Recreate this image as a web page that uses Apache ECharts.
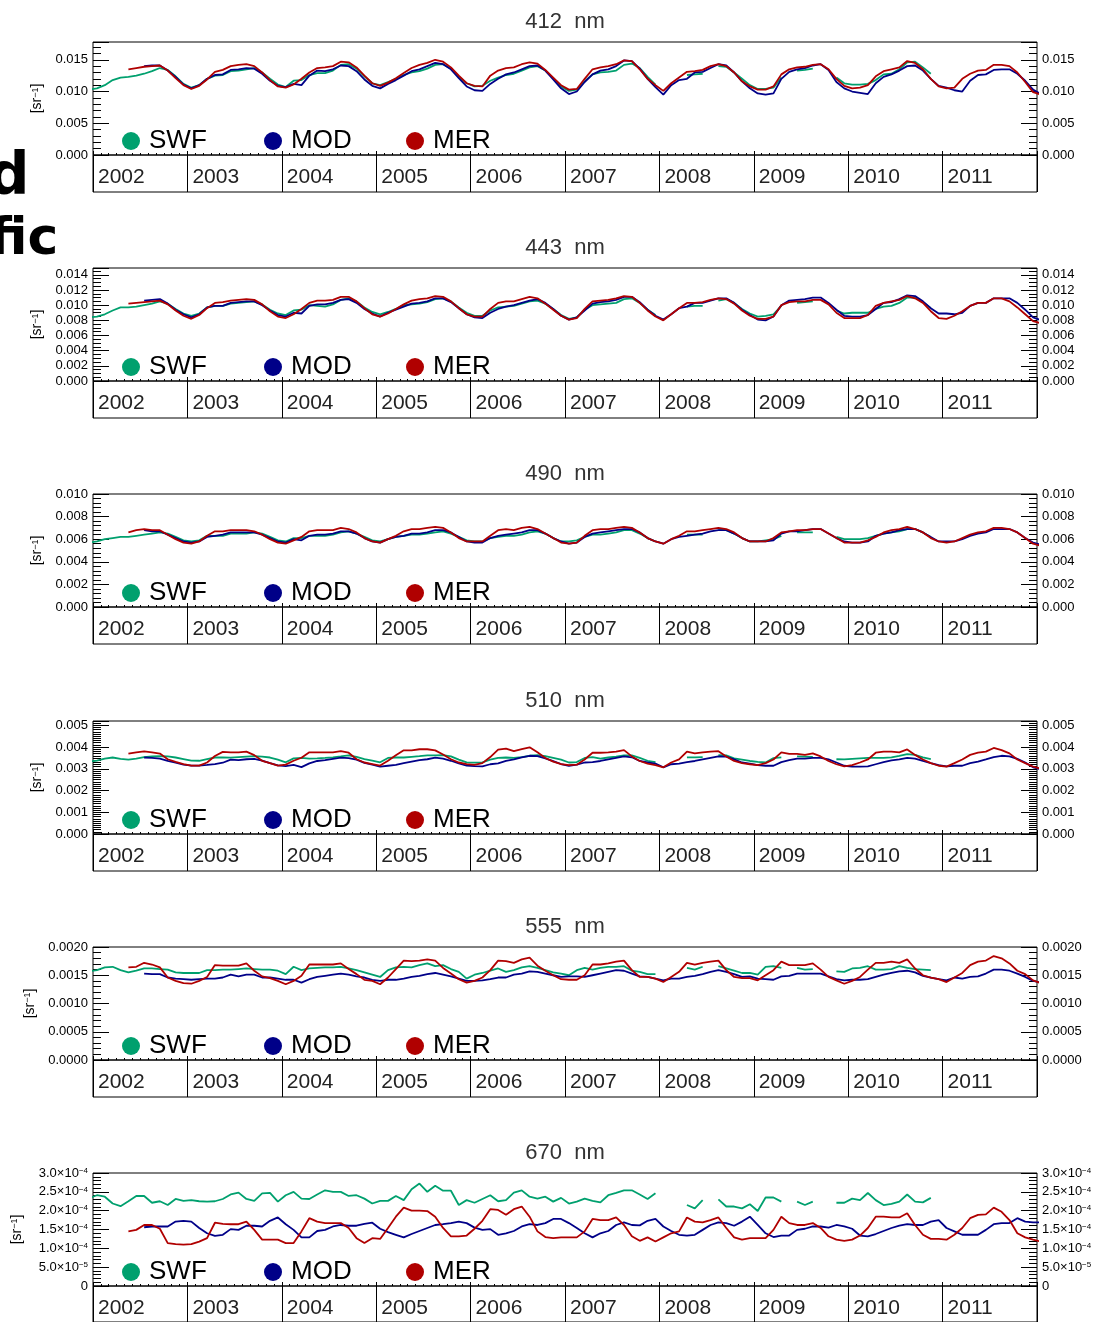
<!DOCTYPE html>
<html><head><meta charset="utf-8">
<script src="https://cdn.jsdelivr.net/npm/echarts@6/dist/echarts.min.js"></script>
<style>html,body{margin:0;padding:0;background:#fff}#c{width:1101px;height:1322px}</style>
</head><body><div id="c"></div><script>
const N = null;
const years = [2002, 2003, 2004, 2005, 2006, 2007, 2008, 2009, 2010, 2011];
const wavelengths = ['412', '443', '490', '510', '555', '670'];
const seriesNames = ['SWF', 'MOD', 'MER'];
const colors = ['#00a06e', '#000088', '#b00000'];

// Monthly values, Dec 2001 .. Dec 2011 + Jan 2012 (122 values); units per panel below
const swf412 = [10.3,
 10.5,11.0,11.8,12.2,12.3,12.5,12.8,13.2,13.7,13.4,12.4,11.2,
 10.6,11.0,12.0,12.5,12.6,13.2,13.3,13.5,13.7,13.0,12.0,11.1,
 10.7,11.7,11.8,12.6,12.9,12.9,13.3,14.2,14.3,13.6,12.4,11.3,
 11.0,11.5,12.0,12.6,13.0,13.2,13.6,14.2,14.3,13.6,12.3,11.3,
 10.8,10.9,11.7,12.2,12.6,12.8,13.3,13.8,14.0,13.3,12.1,10.8,
 10.1,10.3,11.6,12.7,13.0,13.1,13.3,14.2,14.4,13.7,12.3,11.1,
 N,N,N,12.6,12.7,12.8,N,14.0,13.9,13.0,12.0,11.0,
 10.4,10.4,10.6,12.2,N,13.3,13.4,13.6,N,N,12.2,11.3,
 11.1,11.1,11.2,11.8,12.7,12.8,13.5,14.6,14.7,13.8,12.8,N,
 N,N,N,N,N,N,N,N,N,N,N,N,
 N];
const mod412 = [N,
 N,N,N,N,N,N,14.0,14.1,14.1,13.3,12.3,11.1,
 10.5,11.0,12.0,12.6,12.7,13.4,13.5,13.7,13.6,12.8,11.7,10.9,
 10.7,11.2,11.0,12.5,13.3,13.2,13.5,14.1,14.0,13.2,11.9,10.9,
 10.5,11.2,11.8,12.5,13.2,13.5,14.0,14.5,14.3,13.5,12.1,10.8,
 10.2,10.1,11.2,12.0,12.7,13.0,13.5,14.0,14.1,13.3,11.9,10.5,
 9.6,10.0,11.5,12.7,13.3,13.5,14.0,14.9,14.8,13.6,12.0,10.7,
 9.5,11.0,11.8,12.0,13.0,13.1,13.7,14.3,14.1,13.0,11.6,10.5,
 9.7,9.5,9.7,12.0,13.1,13.5,13.7,14.1,14.3,13.4,11.5,10.5,
 10.0,9.8,9.6,11.3,12.3,12.7,13.3,14.0,14.1,13.3,12.0,10.9,
 10.6,10.2,10.0,11.7,12.6,12.7,13.4,13.5,13.5,12.8,11.7,10.3,
 9.6];
const mer412 = [N,
 N,N,N,N,13.5,13.7,13.9,14.0,14.1,13.3,12.1,11.0,
 10.4,10.9,11.9,13.1,13.4,14.0,14.2,14.3,14.0,13.0,11.8,10.8,
 10.6,11.1,12.0,13.0,13.7,13.8,14.0,14.7,14.6,13.8,12.5,11.3,
 10.9,11.4,12.1,12.9,13.7,14.2,14.5,15.0,14.7,13.8,12.5,11.3,
 10.9,10.8,12.5,13.3,13.7,13.8,14.3,14.6,14.4,13.4,12.2,11.0,
 10.3,10.4,12.0,13.5,13.8,14.0,14.3,14.9,14.8,13.5,12.0,11.0,
 10.1,11.3,12.2,13.1,13.2,13.4,14.0,14.3,14.0,13.0,11.6,10.8,
 10.3,10.3,10.8,12.7,13.5,13.8,13.9,14.2,14.3,13.5,12.0,10.9,
 10.5,10.6,11.0,12.4,13.2,13.5,13.8,14.8,14.5,13.5,12.0,10.8,
 10.5,10.6,12.0,12.8,13.3,13.4,14.2,14.2,14.0,13.0,11.5,9.9,
 9.5];

const swf443 = [8.4,
 8.5,8.8,9.3,9.7,9.7,9.8,10.0,10.2,10.5,10.2,9.5,8.9,
 8.6,8.9,9.7,9.9,9.9,10.2,10.3,10.4,10.5,10.1,9.4,8.9,
 8.7,9.3,9.4,10.0,9.9,9.8,10.1,10.7,10.9,10.5,9.7,9.1,
 8.8,9.1,9.5,10.0,10.1,10.2,10.4,10.8,10.9,10.5,9.7,9.0,
 8.6,8.6,9.3,9.7,9.8,9.9,10.2,10.5,10.6,10.2,9.5,8.7,
 8.2,8.4,9.4,10.0,10.1,10.2,10.3,10.8,10.9,10.3,9.4,8.7,
 N,N,N,9.8,9.9,9.9,N,10.6,10.8,10.3,9.5,8.9,
 8.5,8.6,8.8,9.9,N,10.3,10.4,10.5,N,N,9.3,8.9,
 9.0,9.0,9.0,9.5,9.8,9.9,10.3,11.0,11.0,10.4,9.6,N,
 N,N,N,N,N,N,N,N,N,N,N,N,
 N];
const mod443 = [N,
 N,N,N,N,N,N,10.6,10.7,10.8,10.2,9.4,8.8,
 8.4,8.8,9.7,9.9,9.9,10.3,10.4,10.5,10.5,10.0,9.3,8.7,
 8.5,9.0,8.9,9.9,10.1,10.1,10.3,10.7,10.8,10.3,9.5,8.9,
 8.5,9.0,9.4,9.8,10.2,10.3,10.5,10.9,10.9,10.4,9.6,8.8,
 8.4,8.3,9.0,9.5,9.8,10.0,10.3,10.6,10.8,10.3,9.5,8.6,
 8.1,8.4,9.3,10.2,10.4,10.5,10.7,11.1,11.1,10.4,9.4,8.6,
 8.1,8.8,9.6,9.8,10.3,10.3,10.6,10.9,10.9,10.3,9.4,8.7,
 8.1,8.0,8.5,10.0,10.6,10.7,10.8,11.0,11.0,10.3,9.4,8.6,
 8.5,8.5,8.7,9.5,10.3,10.4,10.8,11.3,11.2,10.5,9.6,8.9,
 8.9,8.8,9.0,9.9,10.3,10.3,10.9,10.9,10.9,10.3,9.4,8.4,
 8.0];
const mer443 = [N,
 N,N,N,N,10.2,10.3,10.4,10.5,10.6,10.1,9.3,8.6,
 8.2,8.7,9.6,10.3,10.4,10.6,10.7,10.8,10.7,10.1,9.2,8.5,
 8.3,8.8,9.5,10.3,10.6,10.6,10.7,11.1,11.1,10.5,9.6,8.8,
 8.5,8.9,9.5,10.1,10.6,10.8,10.9,11.2,11.1,10.5,9.6,8.8,
 8.5,8.5,9.5,10.3,10.5,10.5,10.8,11.1,10.9,10.2,9.4,8.6,
 8.1,8.3,9.5,10.5,10.6,10.7,10.9,11.2,11.1,10.3,9.3,8.5,
 8.0,8.8,9.6,10.3,10.3,10.4,10.7,10.9,10.8,10.2,9.3,8.6,
 8.2,8.2,8.5,10.0,10.4,10.5,10.5,10.7,10.7,10.1,9.0,8.3,
 8.3,8.3,8.7,9.9,10.3,10.5,10.7,11.2,10.9,10.3,9.2,8.3,
 8.2,8.6,9.2,9.9,10.3,10.3,10.9,10.9,10.5,9.7,8.8,7.9,
 7.6];

const swf490 = [5.7,
 5.8,6.0,6.1,6.2,6.2,6.3,6.4,6.5,6.6,6.5,6.2,5.9,
 5.8,5.9,6.3,6.3,6.3,6.5,6.5,6.5,6.6,6.5,6.2,5.9,
 5.8,6.1,6.1,6.3,6.3,6.3,6.4,6.6,6.7,6.5,6.2,5.9,
 5.8,6.0,6.2,6.3,6.4,6.4,6.5,6.6,6.7,6.5,6.2,5.9,
 5.8,5.8,6.1,6.2,6.3,6.3,6.4,6.6,6.7,6.5,6.1,5.8,
 5.8,5.9,6.2,6.4,6.4,6.5,6.6,6.8,6.8,6.5,6.1,5.8,
 N,N,N,6.4,6.4,6.4,N,6.8,6.8,6.5,6.1,5.8,
 5.8,5.9,6.0,6.3,N,6.6,6.6,6.6,N,N,6.2,6.0,
 6.0,6.0,6.1,6.3,6.5,6.6,6.7,6.9,6.9,6.6,6.2,N,
 N,N,N,N,N,N,N,N,N,N,N,N,
 N];
const mod490 = [N,
 N,N,N,N,N,N,6.8,6.7,6.7,6.4,6.1,5.8,
 5.7,5.8,6.2,6.3,6.4,6.6,6.6,6.6,6.6,6.4,6.1,5.8,
 5.7,6.0,5.9,6.3,6.4,6.4,6.5,6.7,6.7,6.5,6.1,5.8,
 5.7,6.0,6.2,6.3,6.5,6.5,6.6,6.8,6.8,6.6,6.2,5.8,
 5.7,5.7,6.1,6.3,6.4,6.5,6.6,6.8,6.8,6.5,6.1,5.8,
 5.6,5.7,6.2,6.5,6.6,6.7,6.8,6.9,6.9,6.6,6.1,5.8,
 5.6,6.0,6.2,6.3,6.4,6.5,6.7,6.8,6.8,6.5,6.1,5.8,
 5.8,5.8,5.9,6.5,6.7,6.7,6.8,6.9,6.9,6.5,6.1,5.8,
 5.7,5.7,5.8,6.3,6.5,6.6,6.8,6.9,6.9,6.6,6.2,5.8,
 5.8,5.8,6.0,6.3,6.5,6.6,6.9,6.9,6.9,6.6,6.1,5.7,
 5.5];
const mer490 = [N,
 N,N,N,N,6.6,6.8,6.9,6.8,6.8,6.4,6.0,5.7,
 5.6,5.8,6.3,6.7,6.7,6.8,6.8,6.8,6.7,6.4,6.0,5.7,
 5.6,5.9,6.2,6.7,6.8,6.8,6.8,7.0,6.9,6.6,6.1,5.8,
 5.7,6.0,6.3,6.7,6.9,6.9,7.0,7.1,7.0,6.6,6.1,5.8,
 5.8,5.8,6.3,6.8,6.9,6.8,7.0,7.1,6.9,6.5,6.1,5.7,
 5.6,5.7,6.3,6.8,6.9,6.9,7.0,7.1,7.0,6.6,6.1,5.8,
 5.6,6.0,6.3,6.7,6.7,6.8,6.9,7.0,6.9,6.6,6.1,5.8,
 5.8,5.8,6.1,6.6,6.7,6.8,6.8,6.9,6.9,6.5,6.1,5.7,
 5.7,5.7,5.9,6.2,6.6,6.8,6.9,7.1,6.9,6.6,6.1,5.8,
 5.7,5.8,6.1,6.4,6.6,6.7,7.0,7.0,6.9,6.6,6.1,5.6,
 5.4];

const swf510 = [3.33,
 3.38,3.47,3.52,3.46,3.42,3.47,3.54,3.57,3.58,3.57,3.52,3.45,
 3.38,3.37,3.45,3.52,3.53,3.51,3.54,3.56,3.58,3.56,3.52,3.42,
 3.30,3.48,3.50,3.47,3.48,3.50,3.53,3.57,3.62,3.55,3.45,3.38,
 3.30,3.50,3.52,3.52,3.55,3.58,3.62,3.62,3.63,3.57,3.42,3.30,
 3.28,3.30,3.42,3.50,3.52,3.50,3.54,3.60,3.63,3.58,3.50,3.42,
 3.29,3.31,3.50,3.54,3.47,3.52,3.56,3.62,3.62,3.50,3.37,3.31,
 N,N,N,3.53,3.53,3.54,N,3.63,3.62,3.48,3.42,3.36,
 3.32,3.29,3.49,3.53,N,3.57,3.56,3.55,N,N,3.44,3.43,
 3.46,3.48,3.50,3.50,3.50,3.53,3.60,3.68,3.64,3.53,3.44,N,
 N,N,N,N,N,N,N,N,N,N,N,N,
 N];
const mod510 = [N,
 N,N,N,N,N,N,3.52,3.50,3.47,3.37,3.28,3.19,
 3.15,3.15,3.18,3.22,3.28,3.42,3.40,3.44,3.46,3.38,3.26,3.16,
 3.12,3.18,3.08,3.25,3.36,3.40,3.46,3.51,3.49,3.42,3.27,3.19,
 3.10,3.14,3.18,3.26,3.33,3.40,3.44,3.51,3.47,3.37,3.25,3.15,
 3.12,3.11,3.21,3.25,3.36,3.43,3.53,3.60,3.58,3.48,3.35,3.22,
 3.14,3.19,3.29,3.31,3.36,3.43,3.50,3.57,3.53,3.36,3.29,3.24,
 3.07,3.21,3.24,3.31,3.36,3.43,3.50,3.57,3.56,3.43,3.29,3.24,
 3.17,3.14,3.14,3.31,3.40,3.47,3.47,3.50,3.50,3.43,3.29,3.14,
 3.10,3.10,3.11,3.21,3.31,3.39,3.43,3.50,3.47,3.36,3.26,3.17,
 3.11,3.14,3.14,3.26,3.33,3.43,3.54,3.60,3.57,3.46,3.29,3.07,
 2.98];
const mer510 = [N,
 N,N,N,N,3.70,3.76,3.80,3.76,3.70,3.44,3.32,3.22,
 3.15,3.15,3.29,3.59,3.78,3.76,3.76,3.79,3.63,3.37,3.26,3.15,
 3.19,3.37,3.51,3.76,3.76,3.76,3.76,3.81,3.74,3.44,3.29,3.22,
 3.15,3.37,3.62,3.85,3.85,3.90,3.90,3.85,3.66,3.44,3.29,3.22,
 3.18,3.26,3.54,3.88,3.93,3.81,3.91,3.99,3.76,3.50,3.33,3.22,
 3.17,3.19,3.43,3.74,3.74,3.76,3.79,3.86,3.57,3.36,3.24,3.17,
 3.07,3.29,3.43,3.79,3.71,3.76,3.79,3.81,3.57,3.36,3.26,3.21,
 3.17,3.26,3.43,3.76,3.69,3.69,3.64,3.71,3.57,3.36,3.21,3.11,
 3.17,3.29,3.43,3.74,3.79,3.79,3.76,3.89,3.64,3.43,3.26,3.14,
 3.10,3.26,3.43,3.64,3.74,3.79,3.96,3.86,3.71,3.43,3.26,3.10,
 3.00];

const swf555 = [1.57,
 1.59,1.64,1.65,1.59,1.55,1.58,1.62,1.62,1.61,1.60,1.55,1.54,
 1.54,1.54,1.59,1.59,1.60,1.60,1.61,1.62,1.61,1.60,1.60,1.58,
 1.52,1.65,1.59,1.62,1.63,1.64,1.64,1.65,1.62,1.59,1.55,1.51,
 1.47,1.59,1.64,1.65,1.64,1.68,1.71,1.66,1.68,1.61,1.56,1.44,
 1.51,1.54,1.58,1.62,1.56,1.59,1.64,1.66,1.63,1.59,1.55,1.53,
 1.50,1.59,1.63,1.60,1.63,1.65,1.65,1.66,1.58,1.56,1.52,1.52,
 N,N,N,1.63,1.60,1.65,N,1.66,1.62,1.58,1.54,1.54,
 1.51,1.65,1.66,1.63,N,1.63,1.60,1.61,N,N,1.57,1.56,
 1.62,1.63,1.66,1.60,1.60,1.61,1.66,1.63,1.61,1.60,1.59,N,
 N,N,N,N,N,N,N,N,N,N,N,N,
 N];
const mod555 = [N,
 N,N,N,N,N,N,1.53,1.52,1.52,1.46,1.44,1.43,
 1.42,1.43,1.44,1.44,1.46,1.51,1.48,1.51,1.51,1.46,1.46,1.44,
 1.42,1.42,1.37,1.43,1.47,1.49,1.51,1.53,1.51,1.48,1.46,1.42,
 1.40,1.42,1.42,1.44,1.47,1.49,1.52,1.54,1.51,1.48,1.44,1.40,
 1.40,1.41,1.43,1.46,1.46,1.51,1.53,1.57,1.56,1.53,1.50,1.47,
 1.48,1.48,1.47,1.50,1.53,1.56,1.59,1.58,1.53,1.48,1.47,1.44,
 1.41,1.44,1.44,1.47,1.49,1.52,1.56,1.59,1.56,1.52,1.47,1.48,
 1.44,1.43,1.42,1.48,1.49,1.53,1.53,1.53,1.53,1.48,1.43,1.41,
 1.42,1.42,1.43,1.47,1.51,1.54,1.57,1.58,1.55,1.49,1.46,1.43,
 1.41,1.46,1.44,1.47,1.48,1.53,1.60,1.60,1.58,1.53,1.47,1.40,
 1.37];
const mer555 = [N,
 N,N,N,N,1.64,1.65,1.72,1.69,1.64,1.46,1.40,1.36,
 1.35,1.40,1.47,1.68,1.67,1.67,1.67,1.71,1.58,1.48,1.45,1.40,
 1.34,1.40,1.49,1.69,1.69,1.69,1.69,1.71,1.61,1.52,1.42,1.40,
 1.34,1.46,1.61,1.76,1.75,1.76,1.78,1.76,1.63,1.53,1.43,1.37,
 1.40,1.46,1.59,1.76,1.75,1.72,1.78,1.81,1.67,1.58,1.50,1.43,
 1.42,1.42,1.50,1.69,1.69,1.71,1.74,1.76,1.59,1.47,1.47,1.44,
 1.38,1.47,1.56,1.72,1.69,1.72,1.74,1.76,1.59,1.47,1.45,1.45,
 1.41,1.50,1.59,1.74,1.68,1.68,1.68,1.71,1.60,1.47,1.41,1.35,
 1.40,1.47,1.60,1.72,1.72,1.74,1.72,1.78,1.62,1.50,1.46,1.43,
 1.38,1.46,1.54,1.68,1.74,1.76,1.84,1.80,1.71,1.58,1.52,1.41,
 1.36];

const swf670 = [2.33,
 2.41,2.37,2.19,2.12,2.25,2.39,2.39,2.21,2.25,2.15,2.31,2.26,
 2.28,2.25,2.24,2.25,2.31,2.43,2.48,2.31,2.26,2.46,2.47,2.24,
 2.41,2.50,2.32,2.31,2.43,2.54,2.50,2.50,2.39,2.41,2.32,2.19,
 2.26,2.26,2.39,2.28,2.57,2.72,2.50,2.66,2.53,2.53,2.15,2.28,
 2.21,2.31,2.41,2.25,2.28,2.48,2.54,2.37,2.32,2.37,2.24,2.34,
 2.19,2.24,2.32,2.26,2.22,2.41,2.47,2.54,2.54,2.43,2.31,2.46,
 N,N,N,2.15,2.06,2.28,N,2.30,2.11,2.11,2.06,2.17,
 1.99,2.35,2.35,2.24,N,2.24,2.15,2.24,N,N,2.21,2.21,
 2.32,2.28,2.47,2.28,2.15,2.18,2.24,2.43,2.24,2.22,2.34,N,
 N,N,N,N,N,N,N,N,N,N,N,N,
 N];
const mod670 = [N,
 N,N,N,N,N,N,1.56,1.58,1.58,1.58,1.71,1.73,
 1.71,1.54,1.40,1.33,1.36,1.51,1.49,1.60,1.60,1.58,1.73,1.82,
 1.64,1.49,1.29,1.29,1.46,1.49,1.58,1.62,1.60,1.60,1.65,1.68,
 1.52,1.43,1.36,1.29,1.38,1.46,1.54,1.62,1.64,1.67,1.71,1.67,
 1.55,1.49,1.51,1.36,1.40,1.46,1.58,1.64,1.62,1.67,1.78,1.78,
 1.67,1.54,1.40,1.29,1.40,1.46,1.62,1.69,1.62,1.61,1.73,1.78,
 1.58,1.46,1.36,1.34,1.36,1.49,1.62,1.69,1.67,1.60,1.71,1.84,
 1.62,1.40,1.30,1.34,1.34,1.49,1.52,1.58,1.58,1.55,1.62,1.58,
 1.52,1.34,1.32,1.38,1.46,1.54,1.60,1.64,1.62,1.62,1.71,1.75,
 1.54,1.45,1.36,1.36,1.36,1.49,1.64,1.67,1.67,1.80,1.71,1.69,
 1.69];
const mer670 = [N,
 N,N,N,N,1.45,1.49,1.62,1.62,1.52,1.14,1.11,1.10,
 1.11,1.18,1.27,1.68,1.65,1.64,1.64,1.71,1.49,1.23,1.23,1.23,
 1.14,1.14,1.45,1.80,1.71,1.67,1.67,1.67,1.54,1.27,1.14,1.27,
 1.25,1.54,1.84,2.08,2.00,2.00,1.99,1.84,1.54,1.32,1.32,1.34,
 1.52,1.73,2.04,2.02,1.89,2.04,2.11,1.84,1.45,1.30,1.27,1.29,
 1.29,1.29,1.45,1.78,1.75,1.75,1.82,1.62,1.32,1.20,1.29,1.18,
 1.29,1.40,1.45,1.82,1.71,1.69,1.75,1.82,1.54,1.29,1.23,1.27,
 1.27,1.27,1.49,1.84,1.67,1.62,1.62,1.67,1.54,1.32,1.23,1.20,
 1.23,1.34,1.54,1.84,1.84,1.82,1.82,1.93,1.62,1.36,1.25,1.25,
 1.23,1.36,1.54,1.80,1.89,1.90,2.08,1.97,1.75,1.40,1.29,1.23,
 1.18];

const panelData = [
  [swf412, mod412, mer412], [swf443, mod443, mer443], [swf490, mod490, mer490],
  [swf510, mod510, mer510], [swf555, mod555, mer555], [swf670, mod670, mer670]
];
const units = [1e-3, 1e-3, 1e-3, 1e-3, 1e-3, 1e-4];
const yMax = [0.0178, 0.0149, 0.010, 0.0052, 0.0020, 3.0e-4];
const yInterval = [0.005, 0.002, 0.002, 0.001, 0.0005, 5e-5];
const yMinorSplit = [5, 4, 5, 10, 5, 5];
const yDecimals = [3, 3, 3, 3, 4, 1];
const nameGaps = [48, 48, 48, 48, 56, 69];

// mid-month positions, Dec 2001 .. Jan 2012
const monthX = [];
for (let i = 0; i < 122; i++) monthX.push(2001 + (11.5 + i) / 12);

// layout
const L = 93, W = 944, TOP0 = 42, STEP = 226.2, PH = 113, BH = 37;
const LEG_X0 = 122, LEG_DX = 142;

function labelFmt(p) {
  return function (v) {
    const k = v / yInterval[p];
    if (Math.abs(k - Math.round(k)) > 1e-6) return '';
    if (p === 5) {
      if (Math.abs(v) < 1e-12) return '0';
      const e = Math.floor(Math.log10(v) + 1e-9);
      const m = v / Math.pow(10, e);
      return m.toFixed(1) + '×10{s|−' + (-e) + '}';
    }
    return v.toFixed(yDecimals[p]);
  };
}

const grid = [], xAxis = [], yAxis = [], series = [], legend = [], graphic = [];
const FONT = 'Liberation Sans, Arial, sans-serif';

wavelengths.forEach((wl, p) => {
  const top = Math.round(TOP0 + STEP * p);
  const gMain = grid.length;
  grid.push({ left: L, top: top, width: W, height: PH, show: true, borderColor: '#000', borderWidth: 1, backgroundColor: 'transparent' });
  const gBand = grid.length;
  grid.push({ left: L, top: top + PH, width: W, height: BH, show: true, borderColor: '#000', borderWidth: 1, backgroundColor: 'transparent' });

  const xMain = xAxis.length;
  xAxis.push({
    gridIndex: gMain, type: 'value', min: 2002, max: 2012, interval: 1, position: 'bottom',
    axisLine: { show: false }, axisLabel: { show: false }, splitLine: { show: false },
    axisTick: { show: true, inside: true, length: 4, lineStyle: { color: '#000' } },
    minorTick: { show: true, splitNumber: 12, length: 2, lineStyle: { color: '#000' } }
  });
  xAxis.push({
    gridIndex: gBand, type: 'value', min: 2002, max: 2012, interval: 1, position: 'top',
    axisLine: { show: false }, axisTick: { show: false },
    splitLine: { show: true, lineStyle: { color: '#000', width: 1 } },
    axisLabel: {
      inside: true, margin: 22, align: 'left', verticalAlign: 'middle', padding: [0, 0, 0, 5],
      fontSize: 21, color: '#222', fontFamily: FONT,
      formatter: v => (years.indexOf(Math.round(v)) >= 0 ? String(Math.round(v)) : '')
    }
  });

  const yCommon = {
    gridIndex: gMain, type: 'value', min: 0, max: yMax[p], interval: yInterval[p],
    axisLine: { show: false }, splitLine: { show: false },
    axisTick: { show: true, inside: true, length: 16, lineStyle: { color: '#000' } },
    minorTick: { show: true, splitNumber: yMinorSplit[p], length: 8, lineStyle: { color: '#000' } },
    axisLabel: {
      fontSize: 13, color: '#000', margin: 5, fontFamily: FONT, formatter: labelFmt(p),
      rich: { s: { fontSize: 8, verticalAlign: 'top', lineHeight: 8, fontFamily: FONT } }
    }
  };
  const yLeft = yAxis.length;
  yAxis.push(Object.assign({}, yCommon, {
    position: 'left', name: '[sr{s|−1}]', nameLocation: 'middle', nameRotate: 90, nameGap: nameGaps[p],
    nameTextStyle: { fontSize: 14, color: '#000', fontFamily: FONT, rich: { s: { fontSize: 9, verticalAlign: 'top', lineHeight: 9 } } }
  }));
  yAxis.push(Object.assign({}, yCommon, { position: 'right' }));
  yAxis.push({ gridIndex: gBand, type: 'value', show: false });

  panelData[p].forEach((arr, s) => {
    series.push({
      name: seriesNames[s], type: 'line', xAxisIndex: xMain, yAxisIndex: yLeft,
      data: monthX.map((x, i) => [x, arr[i] === null ? null : arr[i] * units[p]]),
      showSymbol: false, symbol: 'none', connectNulls: false, clip: true, silent: true,
      lineStyle: { color: colors[s], width: 1.8 }, itemStyle: { color: colors[s] },
      z: 2 + s
    });
  });

  seriesNames.forEach((nm, s) => {
    legend.push({
      data: [nm], left: LEG_X0 + LEG_DX * s, top: top + PH - 27, icon: 'circle', padding: 0,
      itemWidth: 18, itemHeight: 18, itemGap: 0, selectedMode: false,
      textStyle: { fontSize: 26, color: '#000', fontFamily: 'Liberation Sans Narrow, ' + FONT, padding: [0, 0, 0, 4] }
    });
  });

  graphic.push({
    type: 'text', x: L + W / 2, y: top - 20,
    style: { text: wl + '  nm', align: 'center', verticalAlign: 'middle', fontSize: 22, fontFamily: FONT, fill: '#333' }
  });
});

graphic.push({ type: 'text', x: -12, y: 150, style: { text: 'd', fontSize: 58, fontWeight: 'bold', fontFamily: 'DejaVu Sans', fill: '#000' } });
graphic.push({ type: 'text', x: -11, y: 214, style: { text: 'fic', fontSize: 52, fontWeight: 'bold', fontFamily: 'DejaVu Sans', fill: '#000' } });

const chart = echarts.init(document.getElementById('c'), null, { renderer: 'canvas' });
chart.setOption({
  animation: false, backgroundColor: '#fff',
  grid, xAxis, yAxis, series, legend, graphic
});
</script></body></html>
